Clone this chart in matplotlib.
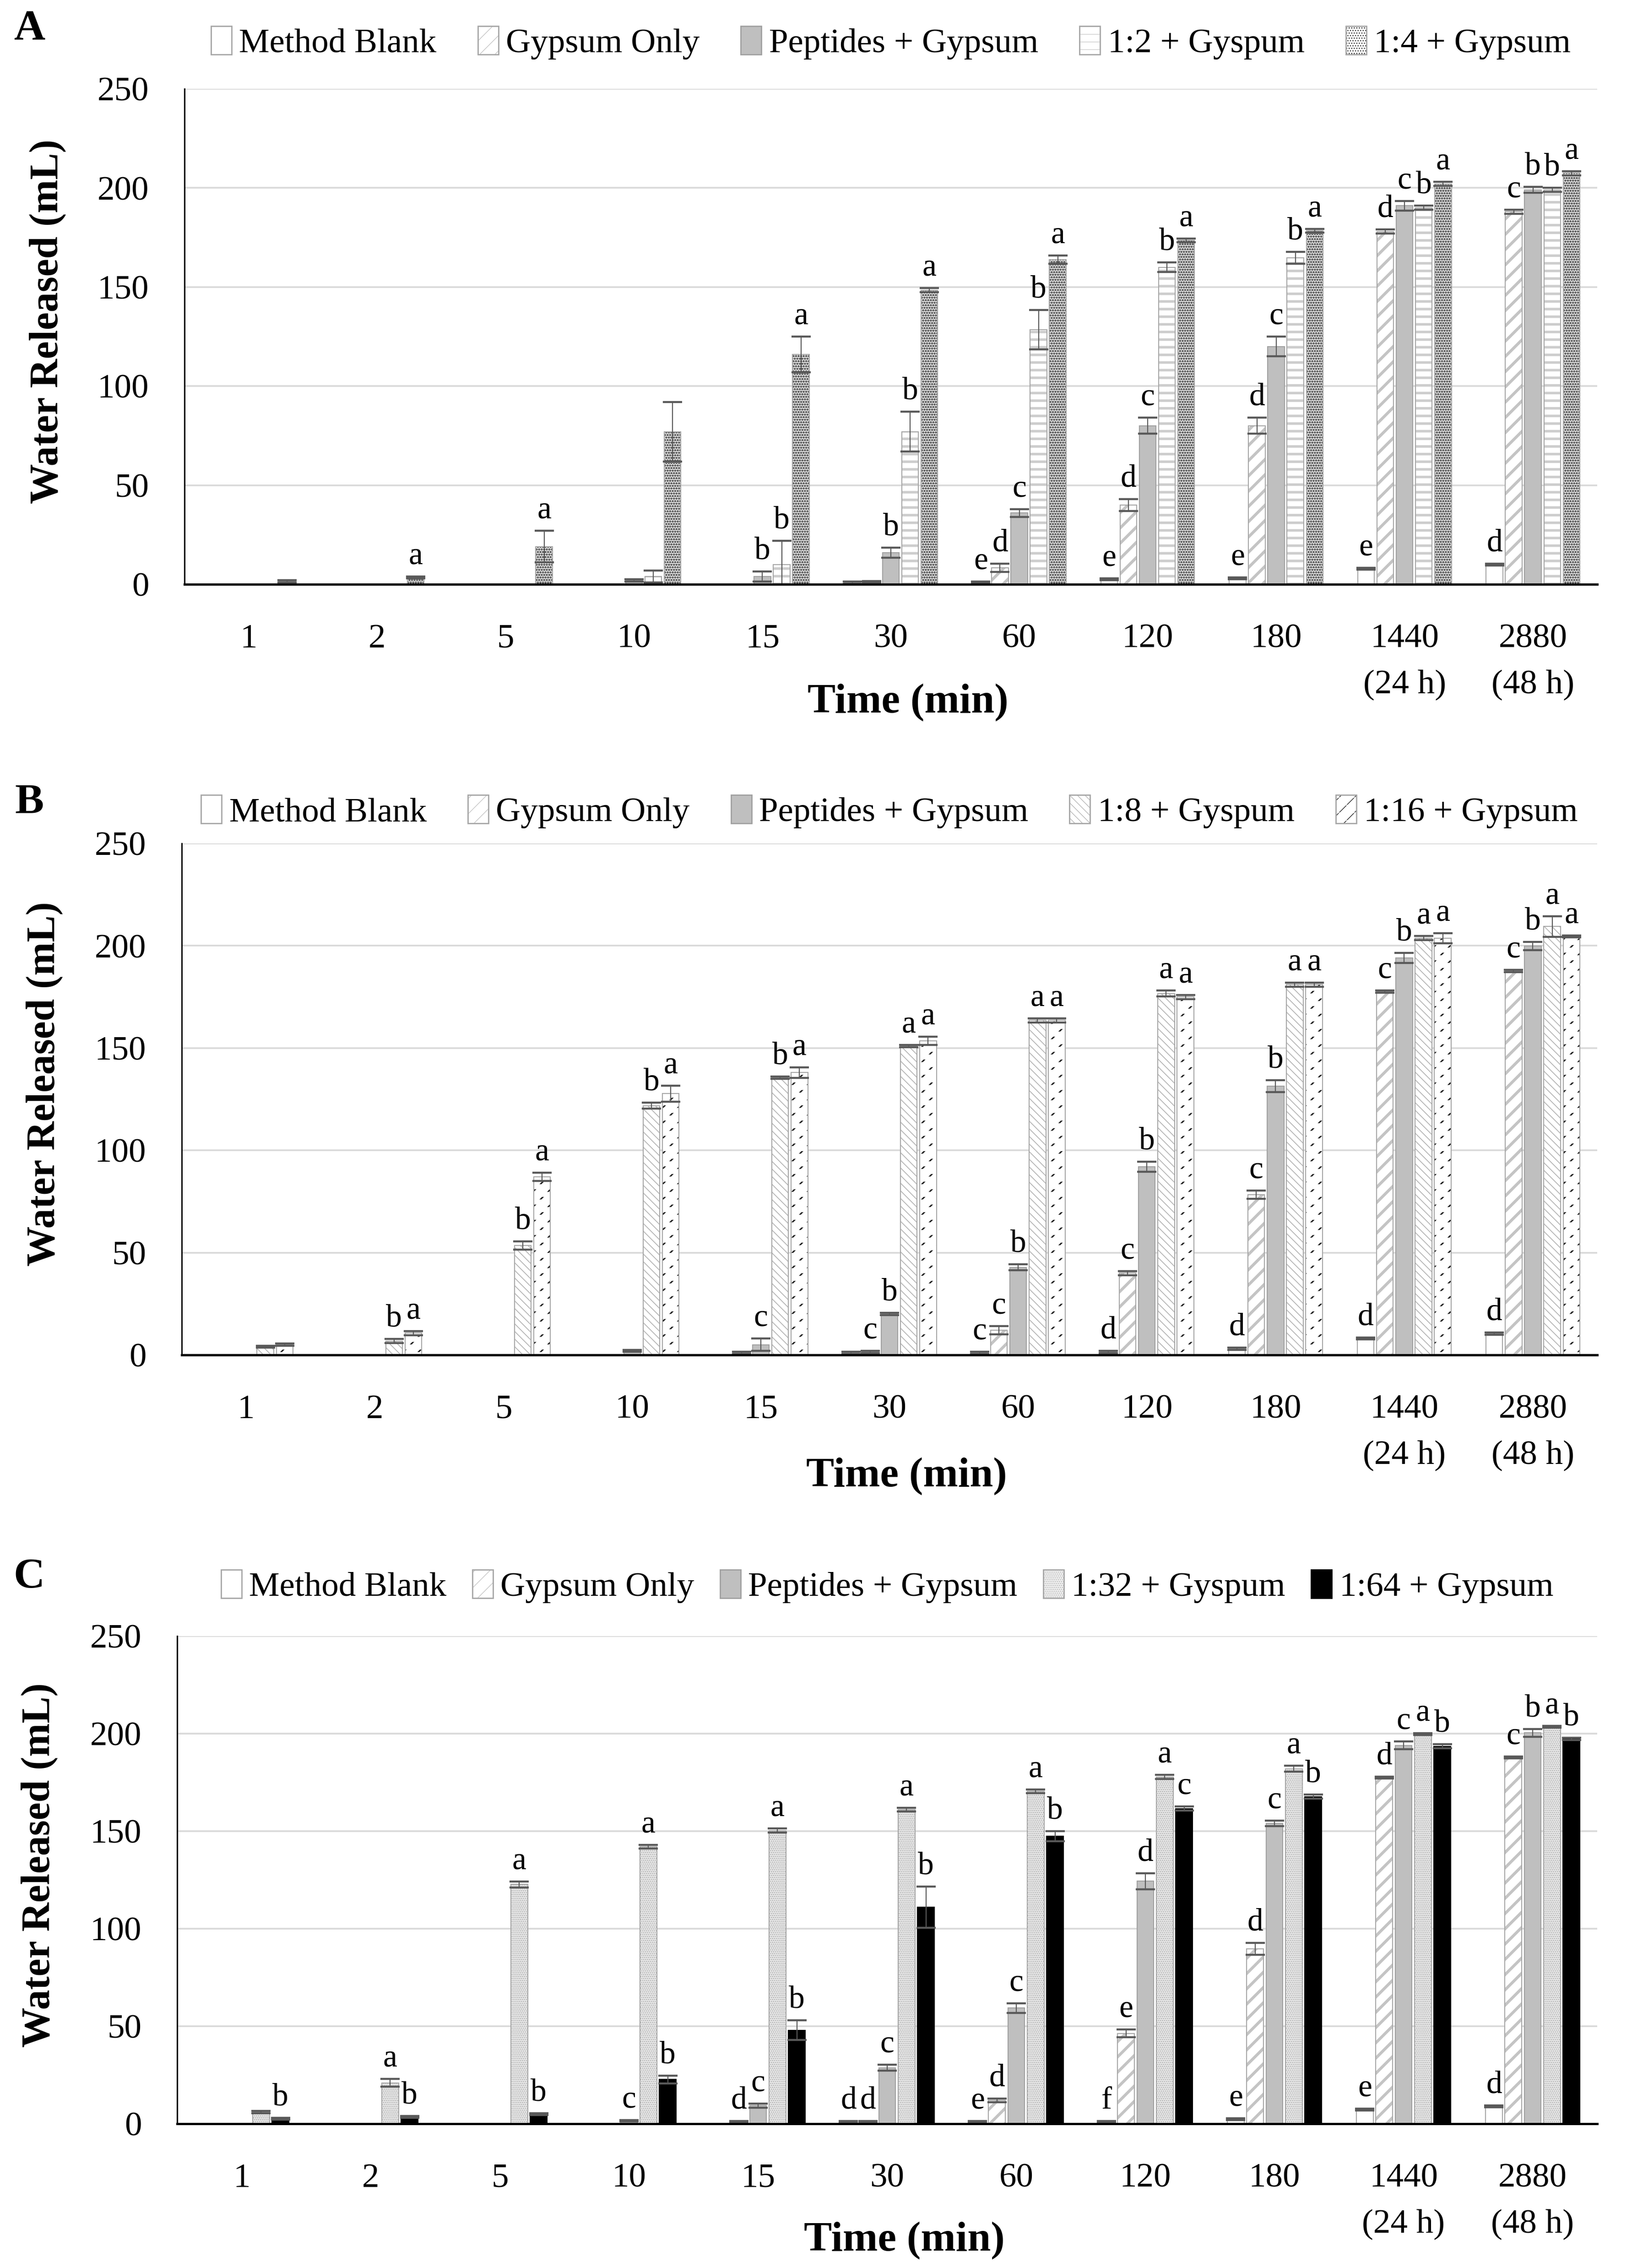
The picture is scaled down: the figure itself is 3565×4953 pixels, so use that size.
import matplotlib
matplotlib.use('Agg')
import matplotlib.pyplot as plt
from matplotlib.patches import Patch
from matplotlib.legend_handler import HandlerTuple
import numpy as np

plt.rcParams['font.family'] = ['Liberation Serif', 'DejaVu Serif']

# x categories (minutes)
times = ['1', '2', '5', '10', '15', '30', '60', '120', '180', '1440\n(24 h)', '2880\n(48 h)']

# ---- Panel A ----
a_names = ['Method Blank', 'Gypsum Only', 'Peptides + Gypsum', '1:2 + Gyspum', '1:4 + Gypsum']
a_blank = [0, 0, 0, 0, 0, 0.8, 1, 2.5, 3, 7.8, 10]
a_gyp = [0, 0, 0, 0, 0, 1.2, 8.3, 40, 80, 178, 188]
a_pep = [0, 0, 0, 2, 4, 16, 36, 80, 120, 191, 199]
a_r2 = [0, 0, 0, 4, 10, 77, 128.5, 160, 164.7, 190, 199]
a_r4 = [1.5, 3.5, 19, 77, 116, 148.4, 163.8, 173.5, 178.4, 202, 207.4]
a_blank_err = [0, 0, 0, 0, 0, 0.5, 0.5, 0.5, 0.5, 0.5, 0.5]
a_gyp_err = [0, 0, 0, 0, 0, 0.5, 2, 3, 4, 1, 1]
a_pep_err = [0, 0, 0, 0.5, 2.5, 2.5, 2, 4, 5, 2.5, 1.5]
a_r2_err = [0, 0, 0, 3, 12, 10, 10, 2.5, 3, 1, 1]
a_r4_err = [0.5, 0.5, 8, 15, 9, 1, 2, 1, 1, 1, 1]
a_blank_let = ['', '', '', '', '', '', 'e', 'e', 'e', 'e', 'd']
a_gyp_let = ['', '', '', '', '', '', 'd', 'd', 'd', 'd', 'c']
a_pep_let = ['', '', '', '', 'b', 'b', 'c', 'c', 'c', 'c', 'b']
a_r2_let = ['', '', '', '', 'b', 'b', 'b', 'b', 'b', 'b', 'b']
a_r4_let = ['', 'a', 'a', '', 'a', 'a', 'a', 'a', 'a', 'a', 'a']

# ---- Panel B ----
b_names = ['Method Blank', 'Gypsum Only', 'Peptides + Gypsum', '1:8 + Gyspum', '1:16 + Gypsum']
b_blank = [0, 0, 0, 0, 0, 1, 1, 1.5, 3, 8, 10.4]
b_gyp = [0, 0, 0, 0, 1, 1.5, 12, 40, 78.4, 177.6, 187.7]
b_pep = [0, 0, 0, 2, 5, 20, 42.8, 92, 131.4, 194, 199.8]
b_r8 = [4, 6.8, 53.5, 121.8, 135.5, 151, 163.6, 176.7, 181, 203.7, 209.4]
b_r16 = [5, 10.7, 87, 127.7, 138, 153.5, 163.6, 175, 181, 203.7, 204.6]
b_blank_err = [0, 0, 0, 0, 0, 0.5, 0.5, 0.5, 0.5, 0.5, 0.5]
b_gyp_err = [0, 0, 0, 0, 0.5, 0.5, 2, 1, 2, 0.5, 0.5]
b_pep_err = [0, 0, 0, 0.5, 3, 0.5, 1.5, 2.5, 3, 2.5, 2]
b_r8_err = [0.5, 1, 2, 1.5, 0.5, 0.5, 1, 1.5, 1, 1, 5]
b_r16_err = [0.5, 1, 2, 4, 2.5, 2, 1, 1, 1, 2.5, 0.5]
b_blank_let = ['', '', '', '', '', '', 'c', 'd', 'd', 'd', 'd']
b_gyp_let = ['', '', '', '', '', 'c', 'c', 'c', 'c', 'c', 'c']
b_pep_let = ['', '', '', '', 'c', 'b', 'b', 'b', 'b', 'b', 'b']
b_r8_let = ['', 'b', 'b', 'b', 'b', 'a', 'a', 'a', 'a', 'a', 'a']
b_r16_let = ['', 'a', 'a', 'a', 'a', 'a', 'a', 'a', 'a', 'a', 'a']

# ---- Panel C ----
c_names = ['Method Blank', 'Gypsum Only', 'Peptides + Gypsum', '1:32 + Gyspum', '1:64 + Gypsum']
c_blank = [0, 0, 0, 0, 0, 1, 1, 1, 2.3, 7.3, 9]
c_gyp = [0, 0, 0, 0, 1, 1, 12, 46.3, 89.7, 177.4, 187.8]
c_pep = [0, 0, 0, 1.5, 9.3, 28.7, 59.3, 124.3, 154, 194, 200.4]
c_r32 = [6, 21, 122.7, 142, 150.3, 161, 170.4, 177.8, 182, 199.8, 203.6]
c_r64 = [2.5, 3.5, 5, 22.7, 48, 111, 147.4, 161.6, 167.7, 193.5, 197.3]
c_blank_err = [0, 0, 0, 0, 0, 0.3, 0.3, 0.3, 0.5, 0.5, 0.5]
c_gyp_err = [0, 0, 0, 0, 0.3, 0.3, 1, 2, 3, 0.5, 0.5]
c_pep_err = [0, 0, 0, 0.3, 1, 1.5, 2.5, 4, 1.5, 2, 2]
c_r32_err = [0.5, 2, 1.5, 1, 1, 1, 1, 1, 1.5, 0.5, 0.5]
c_r64_err = [0.5, 0.5, 0.5, 2, 5, 10.5, 2.5, 1, 1, 1, 0.5]
c_blank_let = ['', '', '', '', '', 'd', 'e', 'f', 'e', 'e', 'd']
c_gyp_let = ['', '', '', '', 'd', 'd', 'd', 'e', 'd', 'd', 'c']
c_pep_let = ['', '', '', 'c', 'c', 'c', 'c', 'd', 'c', 'c', 'b']
c_r32_let = ['', 'a', 'a', 'a', 'a', 'a', 'a', 'a', 'a', 'a', 'a']
c_r64_let = ['b', 'b', 'b', 'b', 'b', 'b', 'b', 'c', 'b', 'b', 'b']

# fill styles (Excel-like patterns)
STYLES = {
    'blank': dict(face='white', hatch=None, hcolor='white', hlw=0, edge='#a6a6a6'),
    'gypsum': dict(face='white', hatch='/', hcolor='#c4c4c4', hlw=4.5, edge='#a6a6a6'),
    'peptide': dict(face='#bfbfbf', hatch=None, hcolor='#bfbfbf', hlw=0, edge='#a0a0a0'),
    'hlines': dict(face='white', hatch='-', hcolor='#cdcdcd', hlw=4, edge='#a6a6a6'),
    'dots_dark': dict(face='white', hatch='...', hcolor='#1e1e1e', hlw=2.4, edge='#a6a6a6'),
    'back_diag': dict(face='white', hatch='\\\\', hcolor='#b4b4b4', hlw=1.3, edge='#a6a6a6'),
    'dash_diag': dict(face='white', hatch='/', hcolor='#1e1e1e', hlw=2.2, edge='#a6a6a6', cut=True),
    'dots_light': dict(face='#f2f2f2', hatch='....', hcolor='#a8a8a8', hlw=1.5, edge='#a6a6a6'),
    'black': dict(face='black', hatch=None, hcolor='black', hlw=0, edge='black'),
}

W = 0.13
STEP = 0.15
FS = 54


def hatch_lw(p, lw):
    if hasattr(p, 'set_hatch_linewidth'):
        p.set_hatch_linewidth(lw)


def series_handle(st):
    parts = []
    with plt.rc_context({'hatch.linewidth': max(st['hlw'], 0.1)}):
        f = Patch(facecolor=st['face'], edgecolor=st['hcolor'], hatch=st['hatch'], linewidth=0)
    hatch_lw(f, st['hlw'])
    parts.append(f)
    if st.get('cut'):
        with plt.rc_context({'hatch.linewidth': 8}):
            c = Patch(facecolor='none', edgecolor='white', hatch='-', linewidth=0)
        hatch_lw(c, 8)
        parts.append(c)
    parts.append(Patch(facecolor='none', edgecolor=st['edge'], linewidth=2))
    return tuple(parts)


def draw_panel(ax, names, series, errors, letters, styles, legend_y, colspace):
    idx = np.arange(len(times))
    for i, (vals, errs, lets, key) in enumerate(zip(series, errors, letters, styles)):
        st = STYLES[key]
        vals = np.array(vals, dtype=float)
        errs = np.array(errs, dtype=float)
        x = idx + (i - 2) * STEP
        with plt.rc_context({'hatch.linewidth': max(st['hlw'], 0.1)}):
            fill = ax.bar(x, vals, W, color=st['face'], edgecolor=st['hcolor'],
                          linewidth=0, hatch=st['hatch'], zorder=2)
        for p in fill:
            hatch_lw(p, st['hlw'])
        if st.get('cut'):
            with plt.rc_context({'hatch.linewidth': 8}):
                cut = ax.bar(x, vals, W, color='none', edgecolor='white',
                             linewidth=0, hatch='-', zorder=2.5)
            for p in cut:
                hatch_lw(p, 8)
        outline = ax.bar(x, vals, W, color='none', edgecolor=st['edge'],
                         linewidth=1.5, zorder=3)
        for p, v in zip(outline, vals):
            if v <= 0:
                p.set_visible(False)
        m = vals > 0
        ax.errorbar(x[m], vals[m], yerr=errs[m], fmt='none', ecolor='#595959',
                    elinewidth=1.6, capsize=15, capthick=3.2, zorder=4)
        for xi, v, e, lt in zip(x, vals, errs, lets):
            if lt:
                ax.annotate(lt, (xi, v + e), xytext=(0, 9), textcoords='offset points',
                            ha='center', va='bottom', fontsize=50, zorder=5)

    ax.set_xlim(-0.5, len(times) - 0.5)
    ax.set_ylim(0, 250)
    ax.set_yticks(np.arange(0, 251, 50))
    ax.set_xticks(idx)
    ax.set_xticklabels(times)
    for t in ax.get_xticklabels():
        t.set_linespacing(1.65)
    ax.tick_params(axis='both', length=0, labelsize=FS)
    ax.tick_params(axis='x', pad=62)
    ax.tick_params(axis='y', pad=56)
    ax.yaxis.grid(True, color='#d9d9d9', linewidth=2.6, zorder=0)
    ax.set_axisbelow(True)
    for s in ['top', 'right']:
        ax.spines[s].set_visible(False)
    ax.spines['left'].set_linewidth(2.2)
    ax.spines['bottom'].set_linewidth(3.6)
    ax.spines['bottom'].set_zorder(6)

    ax.set_ylabel('Water Released (mL)', fontsize=63, fontweight='bold')
    ax.yaxis.set_label_coords(-0.084, 0.53)
    ax.set_xlabel('Time (min)', fontsize=66, fontweight='bold')
    ax.xaxis.set_label_coords(0.512, -0.2)

    handles = [series_handle(STYLES[k]) for k in styles]
    ax.legend(handles, names, loc='center', bbox_to_anchor=(0.5, legend_y), ncol=5,
              frameon=False, fontsize=FS, handlelength=0.6, handleheight=0.9,
              handletextpad=0.22, columnspacing=colspace, borderaxespad=0,
              handler_map={tuple: HandlerTuple(ndivide=1)})


FW, FH = 3565, 4953
fig = plt.figure(figsize=(FW / 100, FH / 100), dpi=100)
RIGHT = 3489


def add_axes(left, top, bottom):
    return fig.add_axes([left / FW, 1 - bottom / FH, (RIGHT - left) / FW, (bottom - top) / FH])


axA = add_axes(403, 194, 1276)
axB = add_axes(397, 1842, 2959)
axC = add_axes(387, 3573, 4638)

draw_panel(axA, a_names, [a_blank, a_gyp, a_pep, a_r2, a_r4],
           [a_blank_err, a_gyp_err, a_pep_err, a_r2_err, a_r4_err],
           [a_blank_let, a_gyp_let, a_pep_let, a_r2_let, a_r4_let],
           ['blank', 'gypsum', 'peptide', 'hlines', 'dots_dark'], 1.093, 1.2)
draw_panel(axB, b_names, [b_blank, b_gyp, b_pep, b_r8, b_r16],
           [b_blank_err, b_gyp_err, b_pep_err, b_r8_err, b_r16_err],
           [b_blank_let, b_gyp_let, b_pep_let, b_r8_let, b_r16_let],
           ['blank', 'gypsum', 'peptide', 'back_diag', 'dash_diag'], 1.062, 1.2)
draw_panel(axC, c_names, [c_blank, c_gyp, c_pep, c_r32, c_r64],
           [c_blank_err, c_gyp_err, c_pep_err, c_r32_err, c_r64_err],
           [c_blank_let, c_gyp_let, c_pep_let, c_r32_let, c_r64_let],
           ['blank', 'gypsum', 'peptide', 'dots_light', 'black'], 1.102, 0.75)

for lab, y in [('A', 64), ('B', 1753), ('C', 3445)]:
    fig.text(64 / FW, 1 - y / FH, lab, fontsize=68, fontweight='bold', ha='center', va='center')

fig.savefig('out.png', dpi=100)
